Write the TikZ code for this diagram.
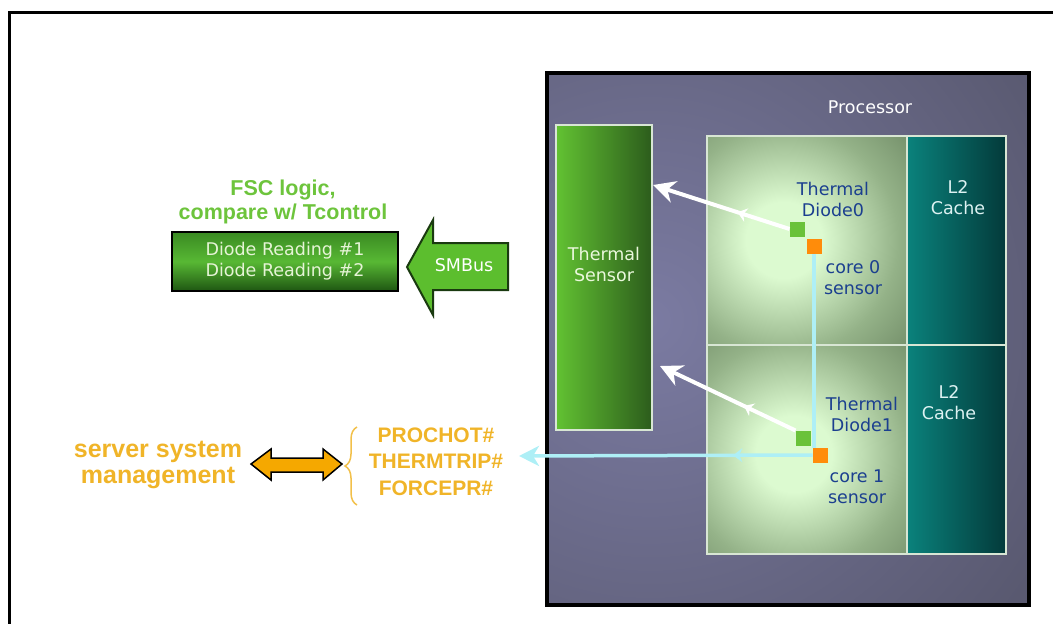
\documentclass[tikz,border=0pt]{standalone}
\usepackage{fontspec}
\setmainfont{DejaVu Sans}
\newfontfamily\headfont{Liberation Sans}
\usetikzlibrary{arrows.meta,decorations.markings,decorations.pathreplacing}

\definecolor{procgray}{HTML}{595970}
\definecolor{proclight}{HTML}{7B7BA2}
\definecolor{sensorlight}{HTML}{62C232}
\definecolor{sensordark}{HTML}{2C5C1C}
\definecolor{sensortext}{HTML}{EAF8DC}
\definecolor{coreedge}{HTML}{566F4E}
\definecolor{coremid}{HTML}{94B288}
\definecolor{corelight}{HTML}{DCFAD0}
\definecolor{cachelight}{HTML}{0A827C}
\definecolor{cachedark}{HTML}{033A3A}
\definecolor{cachetext}{HTML}{DDF2F2}
\definecolor{gridwhite}{HTML}{D8E6D4}
\definecolor{diodeblue}{HTML}{1B3F8F}
\definecolor{diodegreen}{HTML}{6AC23A}
\definecolor{sensororange}{HTML}{FF8C0A}
\definecolor{sigcyan}{HTML}{AEEFF6}
\definecolor{fscgreen}{HTML}{6DC43C}
\definecolor{readtop}{HTML}{3A8A22}
\definecolor{readmid}{HTML}{58B834}
\definecolor{readbot}{HTML}{1E5612}
\definecolor{readtext}{HTML}{E6F4D6}
\definecolor{smbgreen}{HTML}{5CBE2E}
\definecolor{smbedge}{HTML}{1A3A10}
\definecolor{mgmtorange}{HTML}{F0B428}
\definecolor{arroworange}{HTML}{F5A800}
\definecolor{braceorange}{HTML}{F2C04A}

\pgfdeclareradialshading{coreglow}{\pgfpoint{0bp}{0bp}}{color(0bp)=(corelight); color(5bp)=(corelight);
  color(15bp)=(coremid); color(28bp)=(coreedge); color(50bp)=(coreedge)}

\begin{document}
\begin{tikzpicture}[x=1pt,y=-1pt,
    lbl/.style={font=\fontsize{17.5}{21}\selectfont, align=center, inner sep=0pt},
    boldlbl/.style={font=\headfont\bfseries\fontsize{21.5}{24}\selectfont, align=center, inner sep=0pt},
    procbox/.style={fill=procgray, minimum width=482, minimum height=532, inner sep=0pt, outer sep=0pt},
    sensorbox/.style={left color=sensorlight, right color=sensordark, draw=gridwhite, line width=1.5pt,
      minimum width=96, minimum height=305, inner sep=0pt, outer sep=0pt},
    corebox/.style={fill=coreedge, minimum width=200, minimum height=209, inner sep=0pt, outer sep=0pt},
    cachebox/.style={left color=cachelight, right color=cachedark, minimum width=99, minimum height=209,
      inner sep=0pt, outer sep=0pt},
    gridline/.style={draw=gridwhite, line width=1.5pt},
    sq/.style={minimum size=15, inner sep=0pt, outer sep=0pt},
    readline/.style={draw=white, line width=4pt, -{Stealth[length=22pt,width=22pt,inset=7pt]},
      postaction={decorate}, decoration={markings,
        mark=at position 0.38 with {\arrow[white]{Stealth[length=9pt,width=14pt]}}}},
    sigline/.style={draw=sigcyan, line width=3.5pt},
  ]
  \useasboundingbox (0,0) rectangle (1053,624);
  % page frame
  \draw[line width=3pt] (1053,12) -- (9,12) -- (9,624);

  % processor package
  \node[procbox] (proc) at (788,339) {};
  \begin{scope}
    \clip (proc.north west) rectangle (proc.south east);
    \shade[inner color=proclight, outer color=procgray] (650,320) circle (460pt);
  \end{scope}
  \draw[line width=4pt] (proc.north west) rectangle (proc.south east);
  \node[lbl, text=white] (ptitle) at (870,107) {Processor};

  % thermal sensor
  \node[sensorbox] (ts) at (604,277.5) {};
  \node[lbl, text=sensortext] (tslbl) at (604,264) {Thermal\\Sensor};

  % cores and caches
  \node[corebox] (core0) at (807,240.5) {};
  \node[corebox] (core1) at (807,449.5) {};
  \begin{scope}
    \clip (core0.north west) rectangle (core0.south east);
    \shade[shading=coreglow] (784,240) circle (190pt);
  \end{scope}
  \begin{scope}
    \clip (core1.north west) rectangle (core1.south east);
    \shade[shading=coreglow] (794,454) circle (190pt);
  \end{scope}
  \node[cachebox] (cache0) at (956.5,240.5) {};
  \node[cachebox] (cache1) at (956.5,449.5) {};
  \draw[gridline] (core0.north west) rectangle (cache1.south east);
  \draw[gridline] (core0.north east) -- (core1.south east);
  \draw[gridline] (core0.south west) -- (cache0.south east);

  \node[lbl, text=diodeblue] (dlbl0) at (833,199) {Thermal\\Diode0};
  \node[lbl, text=diodeblue] (slbl0) at (853,278) {core 0\\sensor};
  \node[lbl, text=cachetext] (clbl0) at (958,198) {L2\\Cache};
  \node[lbl, text=diodeblue] (dlbl1) at (862,414) {Thermal\\Diode1};
  \node[lbl, text=diodeblue] (slbl1) at (857,487) {core 1\\sensor};
  \node[lbl, text=cachetext] (clbl1) at (949,403) {L2\\Cache};

  % diodes and sensors
  \node[sq, fill=diodegreen] (d0) at (797,229) {};
  \node[sq, fill=sensororange] (s0) at (814,246) {};
  \node[sq, fill=diodegreen] (d1) at (803,438) {};
  \node[sq, fill=sensororange] (s1) at (820,455) {};

  % diode readings to the thermal sensor
  \coordinate (ts0) at (653,185);
  \coordinate (ts1) at (660,366);
  \draw[readline] (d0.west) -- (ts0);
  \draw[readline] (d1.north west) -- (ts1);

  % core sensor signals
  \coordinate (sigend) at (519,456);
  \draw[sigline] (s0.south) -- (s0.south |- s1.north);
  \draw[sigline, -{Stealth[length=20pt,width=20pt,inset=6pt]},
    postaction={decorate}, decoration={markings,
      mark=at position 0.27 with {\arrow[sigcyan]{Stealth[length=9pt,width=14pt]}}}]
    (s1.west) -- (sigend);

  % fan speed control
  \node[boldlbl, text=fscgreen] (fsc) at (283,202) {FSC logic,\\compare w/ Tcontrol};
  \node[lbl, text=readtext, draw=black, line width=2pt, minimum width=226, minimum height=59,
    top color=readtop, bottom color=readbot, middle color=readmid] (reads) at (285,261.5)
    {Diode Reading \#1\\Diode Reading \#2};
  \draw[fill=smbgreen, draw=smbedge, line width=2pt, line join=miter]
    (407,267) -- (433,220) -- (433,243) -- (508,243) -- (508,290) -- (433,290) -- (433,315) -- cycle;
  \node[lbl, text=white] (smb) at (464,265) {SMBus};

  % system management signals
  \node[boldlbl, text=mgmtorange, font=\headfont\bfseries\fontsize{25}{26}\selectfont] (mgmt)
    at (158,465) {server system\\management};
  \draw[fill=arroworange, draw=black, line width=1.5pt]
    (251,464) -- (271,449) -- (271,458) -- (323,458) -- (323,449) -- (342,464)
    -- (323,480) -- (323,472) -- (271,472) -- (271,480) -- cycle;
  \coordinate (brbot) at (357,505);
  \coordinate (brtop) at (357,427);
  \draw[braceorange, line width=1.5pt, decorate, decoration={brace, amplitude=12pt}] (brbot) -- (brtop);
  \node[boldlbl, text=mgmtorange, font=\headfont\bfseries\fontsize{21}{26.5}\selectfont] (pins)
    at (436,461.5) {PROCHOT\#\\THERMTRIP\#\\FORCEPR\#};
\end{tikzpicture}
\end{document}
